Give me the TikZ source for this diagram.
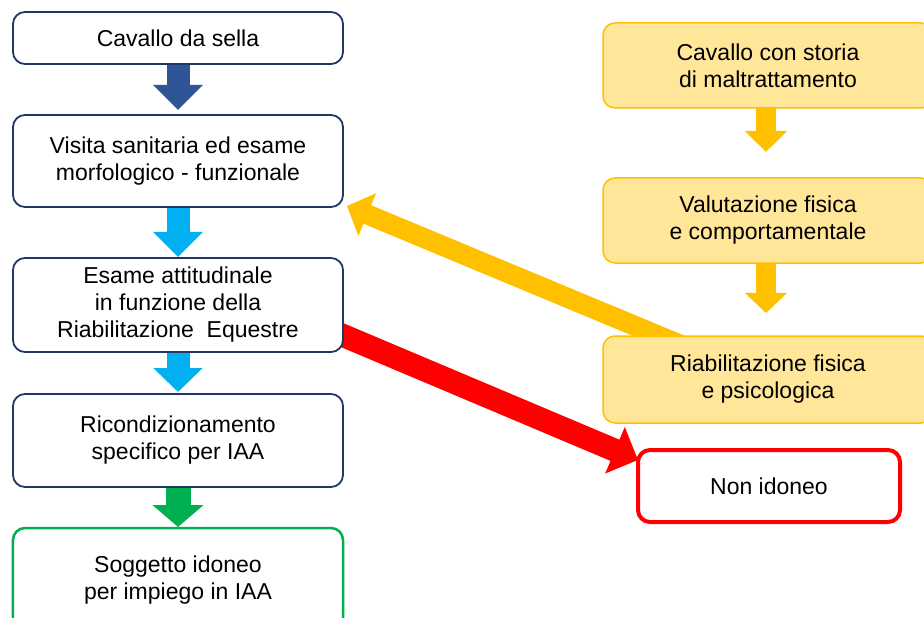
\documentclass[tikz,border=0pt]{standalone}
\usepackage{fontspec}
\setmainfont{Liberation Sans}
\usetikzlibrary{arrows.meta,calc,backgrounds}
\definecolor{navy}{HTML}{203864}
\definecolor{dblue}{HTML}{2F5597}
\definecolor{lblue}{HTML}{00B0F0}
\definecolor{grn}{HTML}{00B050}
\definecolor{ylw}{HTML}{FFC000}
\definecolor{ylwfill}{HTML}{FFE699}
\definecolor{rd}{HTML}{FF0000}
\tikzset{
  lbox/.style={draw=navy,line width=1.8bp,fill=white,rounded corners=12bp,
    minimum width=330bp,align=center,inner sep=0pt,outer sep=0pt,
    font=\fontsize{23bp}{27bp}\selectfont},
  ybox/.style={lbox,draw=ylw,fill=ylwfill,line width=1.5bp},
  blockarrow/.style n args={4}{draw=#1,line width=#2,line cap=butt,
    -{Triangle[width=#3,length=#4]}}
}
\begin{document}
\begin{tikzpicture}[x=1bp,y=-1bp]
\useasboundingbox (0,0) rectangle (924,618);
\clip (0,0) rectangle (924,618);
% left column
\node[lbox,minimum height=52bp] (n1) at (178,38) {Cavallo da sella};
\node[lbox,minimum height=92bp] (n2) at (178,161) {Visita sanitaria ed esame\\morfologico - funzionale};
\node[lbox,minimum height=94bp] (n3) at (178,305) {Esame attitudinale\\in funzione della\\Riabilitazione\ \ Equestre};
\node[lbox,minimum height=93bp] (n4) at (178,440.5) {Ricondizionamento\\specifico per IAA};
\node[lbox,draw=grn,line width=2.5bp,minimum height=104bp] (n5) at (178,580) {Soggetto idoneo\\per impiego in IAA};
% right column
\node[ybox,minimum height=85bp] (r1) at (768,65.5) {Cavallo con storia\\di maltrattamento};
\node[ybox,minimum height=85bp] (r2) at (768,220.5) {Valutazione fisica\\e comportamentale};
\node[ybox,minimum height=87bp] (r3) at (768,379.5) {Riabilitazione fisica\\e psicologica};
\node[lbox,draw=rd,line width=4bp,minimum width=262bp,minimum height=72bp] (ni) at (769,486) {Non idoneo};
\coordinate (ytail) at ($(r3.north west)+(97,17)$);
\coordinate (rtail) at ($(n3.south east)+(-13,-22)$);
\begin{scope}[on background layer]
\fill[white] (0,0) rectangle (924,618);
\draw[blockarrow={dblue}{23bp}{48bp}{25bp}] ($(n1.south)+(0,1)$) -- ($(n2.north)+(0,-5)$);
\draw[blockarrow={lblue}{23bp}{48bp}{25bp}] ($(n2.south)+(0,1)$) -- ($(n3.north)+(0,-1)$);
\draw[blockarrow={lblue}{23bp}{48bp}{24bp}] ($(n3.south)+(0,1)$) -- ($(n4.north)+(0,-2)$);
\draw[blockarrow={grn}{25bp}{50bp}{22bp}] ($(n4.south)+(0,1)$) -- ($(n5.north)+(0,-1)$);
\draw[blockarrow={ylw}{20bp}{41bp}{21bp}] ($(r1.south)+(-2,0)$) -- ($(r2.north)+(-2,-26)$);
\draw[blockarrow={ylw}{20bp}{41bp}{20bp}] ($(r2.south)+(-2,0)$) -- ($(r3.north)+(-2,-23)$);
\draw[blockarrow={ylw}{20bp}{45bp}{22bp}] (ytail) -- ($(n2.south east)+(4,-1)$);
\draw[blockarrow={rd}{23bp}{49bp}{25bp}] (rtail) -- ($(ni.north west)+(0,10)$);
\end{scope}
\end{tikzpicture}
\end{document}
